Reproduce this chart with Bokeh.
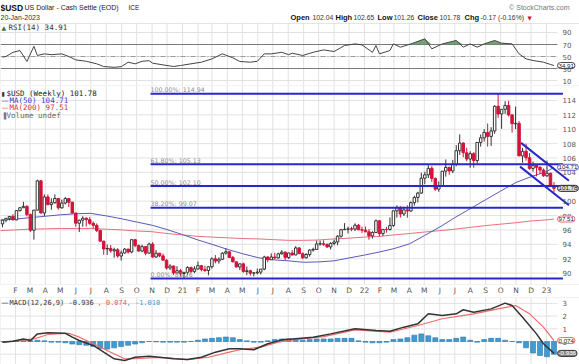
import pandas as pd
from bokeh.plotting import figure
from bokeh.models import Range1d, FixedTicker, Label, ColumnDataSource, BoxAnnotation
from bokeh.layouts import column
from bokeh.embed import file_html
from bokeh.resources import INLINE

# ---------------- data ----------------
week_ending = pd.date_range("2020-01-10", "2023-01-20", freq="W-FRI")

opens = [96.84, 97.36, 97.61, 97.87, 97.39, 98.69, 99.08, 99.26, 98.13, 95.95, 98.75, 102.82, 98.36, 100.58, 99.52, 99.78,
         100.37, 99.07, 99.74, 100.36, 99.85, 98.34, 96.93, 97.35, 97.63, 97.43, 96.92, 96.64, 95.91, 94.43, 93.35, 93.42,
         93.09, 93.24, 92.37, 92.79, 93.33, 92.93, 94.64, 93.84, 93.06, 93.68, 92.77, 94.04, 92.23, 92.77, 92.39, 91.79,
         90.70, 90.98, 90.02, 90.33, 89.94, 90.10, 90.77, 90.23, 90.58, 91.03, 90.48, 90.36, 90.88, 91.98, 91.67, 91.92,
         92.77, 92.96, 92.18, 91.56, 90.85, 91.28, 90.22, 90.32, 89.99, 90.03, 90.13, 90.55, 92.23, 91.85, 92.23, 92.12,
         92.68, 92.91, 92.17, 92.79, 92.52, 93.50, 92.69, 92.13, 92.58, 93.20, 93.29, 94.04, 94.08, 93.96, 93.64, 94.12,
         94.32, 95.12, 96.03, 96.09, 96.15, 96.11, 96.66, 96.02, 95.97, 95.73, 95.17, 95.64, 97.27, 95.48, 96.07, 96.05,
         96.62, 98.65, 99.13, 98.22, 98.79, 98.63, 99.79, 100.51, 101.12, 103.19, 103.66, 104.56, 103.16, 101.67, 102.14,
         104.17, 104.69, 104.20, 105.13, 107.01, 108.07, 106.72, 105.85, 106.60, 105.65, 108.16, 108.80, 109.54, 109.00,
         109.76, 113.19, 112.12, 112.77, 113.31, 111.99, 110.76, 110.81, 106.29, 106.93, 106.04, 104.55, 104.99, 104.70,
         104.32, 103.52, 103.88, 102.04]
highs = [97.46, 97.63, 97.92, 98.19, 98.70, 99.19, 99.91, 99.45, 98.28, 98.77, 102.99, 102.94, 100.93, 100.93, 100.40, 100.94,
         100.40, 100.22, 100.56, 100.38, 99.93, 98.40, 97.42, 97.89, 97.74, 97.80, 97.15, 96.90, 96.04, 94.51, 93.99, 93.90,
         93.53, 93.47, 93.14, 93.48, 93.38, 94.74, 94.75, 93.95, 93.95, 93.71, 94.22, 94.30, 93.21, 92.80, 92.70, 91.92,
         91.24, 91.05, 90.96, 90.58, 90.14, 90.94, 90.90, 90.95, 91.60, 91.05, 91.02, 90.97, 92.19, 92.50, 92.18, 92.90,
         93.44, 92.99, 92.37, 91.61, 91.31, 91.44, 90.91, 90.47, 90.12, 90.63, 90.55, 92.41, 92.35, 92.74, 92.83, 92.84,
         93.19, 93.00, 92.83, 93.20, 93.73, 93.60, 92.88, 92.77, 93.32, 93.52, 94.50, 94.50, 94.56, 94.13, 94.29, 94.64,
         95.27, 96.14, 96.94, 96.46, 96.44, 96.91, 96.79, 96.46, 96.47, 96.13, 95.82, 97.44, 97.33, 96.08, 96.43, 97.74,
         98.67, 99.42, 99.30, 99.22, 99.42, 99.96, 100.76, 101.30, 103.94, 104.07, 105.01, 104.87, 103.29, 102.74, 104.17,
         105.79, 104.78, 105.74, 107.79, 109.29, 108.19, 107.43, 106.93, 106.81, 108.19, 109.27, 110.02, 110.79, 110.28,
         113.33, 114.94, 112.77, 113.90, 113.95, 112.12, 113.15, 111.14, 107.40, 107.99, 106.68, 105.52, 105.03, 104.86,
         104.55, 105.63, 103.95, 102.65]
lows = [96.36, 97.07, 97.33, 97.36, 97.35, 98.54, 99.05, 97.88, 95.72, 94.65, 98.70, 98.26, 97.91, 99.42, 98.81, 99.65,
        98.81, 98.96, 99.55, 99.18, 98.34, 96.43, 95.71, 96.45, 96.48, 96.71, 96.24, 95.71, 94.41, 92.55, 92.52, 92.83,
        92.13, 92.14, 91.74, 92.70, 92.69, 92.74, 93.59, 92.99, 92.90, 92.48, 92.70, 92.13, 92.13, 92.21, 91.75, 90.47,
        90.43, 89.72, 89.98, 89.50, 89.26, 89.69, 89.96, 89.99, 90.45, 90.25, 90.15, 89.68, 90.63, 91.36, 91.30, 91.79,
        92.57, 92.08, 91.50, 90.79, 90.42, 90.05, 89.70, 89.65, 89.53, 89.81, 89.80, 90.40, 91.51, 91.82, 91.90, 92.00,
        92.56, 91.78, 91.95, 92.43, 92.47, 92.68, 91.94, 92.02, 92.29, 92.98, 93.23, 93.82, 93.78, 93.49, 93.28, 93.86,
        93.87, 94.92, 95.99, 95.52, 95.82, 95.85, 95.96, 95.57, 95.69, 94.63, 94.81, 95.64, 95.14, 95.17, 95.60, 95.92,
        96.43, 97.71, 97.72, 97.94, 97.69, 98.52, 99.39, 99.82, 101.03, 102.35, 103.21, 102.66, 101.43, 101.30, 102.03,
        103.41, 103.67, 103.90, 104.86, 106.43, 106.11, 105.54, 104.64, 104.64, 105.27, 107.58, 108.30, 107.58, 107.68,
        109.36, 111.57, 110.06, 112.13, 111.78, 109.54, 110.02, 106.27, 105.34, 105.63, 104.37, 104.11, 103.44, 103.79,
        103.38, 103.38, 101.99, 101.26]
closes = [97.36, 97.61, 97.87, 97.39, 98.69, 99.08, 99.26, 98.13, 95.95, 98.75, 102.82, 98.36, 100.58, 99.52, 99.78, 100.37,
          99.07, 99.74, 100.36, 99.85, 98.34, 96.93, 97.35, 97.63, 97.43, 96.92, 96.64, 95.91, 94.43, 93.35, 93.42, 93.09,
          93.24, 92.37, 92.79, 93.33, 92.93, 94.64, 93.84, 93.06, 93.68, 92.77, 94.04, 92.23, 92.77, 92.39, 91.79, 90.70,
          90.98, 90.02, 90.33, 89.94, 90.10, 90.77, 90.23, 90.58, 91.03, 90.48, 90.36, 90.88, 91.98, 91.67, 91.92, 92.77,
          92.96, 92.18, 91.56, 90.85, 91.28, 90.22, 90.32, 89.99, 90.03, 90.13, 90.55, 92.23, 91.85, 92.23, 92.12, 92.68,
          92.91, 92.17, 92.79, 92.52, 93.50, 92.69, 92.13, 92.58, 93.20, 93.29, 94.04, 94.08, 93.96, 93.64, 94.12, 94.32,
          95.12, 96.03, 96.09, 96.15, 96.11, 96.66, 96.02, 95.97, 95.73, 95.17, 95.64, 97.27, 95.48, 96.07, 96.05, 96.62,
          98.65, 99.13, 98.22, 98.79, 98.63, 99.79, 100.51, 101.12, 103.19, 103.66, 104.56, 103.16, 101.67, 102.14, 104.17,
          104.69, 104.20, 105.13, 107.01, 108.07, 106.72, 105.85, 106.60, 105.65, 108.16, 108.80, 109.54, 109.00, 109.76,
          113.19, 112.12, 112.77, 113.31, 111.99, 110.76, 110.81, 106.29, 106.93, 106.04, 104.55, 104.99, 104.70, 104.32,
          103.52, 103.88, 102.20, 101.78]

ma_dates = ["2020-01-01", "2020-02-01", "2020-03-01", "2020-04-01", "2020-05-01", "2020-06-01", "2020-07-01",
            "2020-08-01", "2020-09-01", "2020-10-01", "2020-11-01", "2020-12-01", "2021-01-01", "2021-02-01",
            "2021-03-01", "2021-04-01", "2021-05-01", "2021-06-01", "2021-07-01", "2021-08-01", "2021-09-01",
            "2021-10-01", "2021-11-01", "2021-12-01", "2022-01-01", "2022-02-01", "2022-03-01", "2022-04-01",
            "2022-05-01", "2022-06-01", "2022-07-01", "2022-08-01", "2022-09-01", "2022-10-01", "2022-11-01",
            "2022-12-01", "2023-01-01", "2023-01-16"]
ma50 = [97.35, 97.5, 97.7, 97.9, 98.1, 98.25, 98.3, 97.95, 97.55, 97.1, 96.65, 96.05, 95.35, 94.6, 94.0, 93.3,
        92.7, 92.15, 91.85, 91.7, 91.5, 91.55, 91.7, 92.1, 92.5, 92.95, 93.4, 94.05, 95.2, 96.4, 97.7, 98.95,
        100.2, 101.4, 102.6, 103.4, 104.1, 104.71]
ma200 = [95.9, 96.0, 96.1, 96.15, 96.2, 96.2, 96.2, 96.1, 96.0, 95.85, 95.75, 95.5, 95.3, 95.1, 95.0, 94.9,
         94.8, 94.75, 94.65, 94.55, 94.55, 94.6, 94.75, 94.85, 95.0, 95.1, 95.3, 95.5, 95.7, 95.9, 96.1, 96.35,
         96.6, 96.8, 97.0, 97.25, 97.4, 97.51]

rsi_week = [0, 1, 3, 5, 7, 9, 10, 12, 14, 17, 19, 21, 24, 27, 29, 32, 34, 36, 38, 40, 42, 43, 46, 49, 51, 54, 57,
            60, 63, 66, 68, 71, 73, 75, 77, 80, 82, 83, 86, 89, 92, 95, 98, 101, 103, 106, 107, 108, 111, 112, 114,
            117, 121, 123, 126, 130, 132, 134, 136, 138, 141, 143, 146, 148, 150, 152, 155, 157, 158]
rsi_vals = [49, 50, 57, 60, 41.7, 67, 51.7, 54.4, 53, 54.4, 50, 44.4, 42, 37.8, 33.3, 32, 33, 40.5, 37.8, 42, 43,
            38.9, 36, 33.3, 35, 37.8, 40.5, 46, 54.4, 47.8, 41.7, 40.5, 42, 54.4, 54.4, 57, 53, 55.5, 51.7, 57, 61,
            58.3, 68.3, 71, 69.4, 57, 68.3, 54.4, 60, 71, 65.5, 71, 79.4, 62.8, 71, 76.7, 65.5, 71, 65.5, 71, 76.7,
            72.2, 71, 54.4, 46, 43.3, 40.5, 36.7, 34.91]

macd_week = [0, 3, 6, 8, 10, 13, 18, 20, 22, 26, 29, 32, 35, 38, 42, 45, 49, 53, 57, 61, 65, 68, 72, 76, 80, 83,
             89, 94, 101, 107, 111, 115, 119, 122, 126, 130, 132, 135, 140, 144, 146, 149, 153, 155, 158]
macd_vals = [-0.05, 0.02, 0.2, 0.08, 0.6, 0.68, 0.65, 0.34, 0.08, -0.31, -0.84, -1.36, -1.5, -1.24, -1.16, -1.24,
             -1.36, -1.42, -1.24, -0.84, -0.57, -0.57, -0.65, -0.18, 0.13, 0.2, 0.34, 0.6, 1.0, 0.87, 0.81, 1.13,
             1.39, 2.18, 2.05, 2.18, 2.5, 2.31, 2.57, 3.02, 2.83, 1.91, 0.6, -0.18, -0.936]
signal_week = [0, 5, 9, 13, 19, 22, 26, 31, 35, 38, 43, 47, 53, 59, 65, 68, 74, 79, 83, 92, 101, 111, 119, 126,
               135, 142, 147, 151, 155, 158]
signal_vals = [-0.05, 0.08, 0.2, 0.55, 0.65, 0.34, -0.18, -0.84, -1.36, -1.36, -1.28, -1.28, -1.42, -1.24, -0.84,
               -0.65, -0.44, -0.05, 0.13, 0.39, 0.92, 0.73, 1.26, 1.79, 2.18, 2.57, 2.83, 2.18, 1.13, 0.074]
hist_week = list(range(0, 159, 2))
hist_vals = [0, 0, 0.02, 0.05, 0.05, 0.1, 0.05, -0.05, -0.05, -0.1, -0.2, -0.25, -0.3, -0.4, -0.55, -0.6, -0.5,
             -0.4, -0.3, -0.2, -0.1, 0, -0.03, -0.05, -0.05, -0.05, -0.05, 0, 0.1, 0.2, 0.25, 0.3, 0.35, 0.3, 0.15,
             0.05, -0.05, -0.05, 0.05, 0.15, 0.2, 0.2, 0.1, 0.1, 0.15, 0.2, 0.2, 0.2, 0.25, 0.25, 0.25, 0.05, -0.05,
             -0.1, -0.1, -0.05, 0.15, 0.2, 0.3, 0.5, 0.6, 0.45, 0.3, 0.15, 0.15, 0.25, 0.35, 0.1, -0.05, 0.15, 0.25,
             0.25, 0.1, 0, -0.1, -0.5, -0.9, -1.1, -1.2, -1.01]

fib_start = "2020-10-29"
fib_end = "2023-02-03"
fib_names = ["100.00%", "61.80%", "50.00%", "38.20%", "0.00%"]
fib_levels = [114.94, 105.13, 102.10, 99.07, 89.26]

channel_upper_dates = ["2022-11-11", "2023-02-15"]
channel_upper = [108.1, 102.84]
channel_lower_dates = ["2022-11-09", "2023-02-15"]
channel_lower = [104.8, 99.43]

month_ticks = ["2020-02-01", "2020-03-01", "2020-04-01", "2020-05-01", "2020-06-01", "2020-07-01", "2020-08-01",
               "2020-09-01", "2020-10-01", "2020-11-01", "2020-12-01", "2021-01-01", "2021-02-01", "2021-03-01",
               "2021-04-01", "2021-05-01", "2021-06-01", "2021-07-01", "2021-08-01", "2021-09-01", "2021-10-01",
               "2021-11-01", "2021-12-01", "2022-01-01", "2022-02-01", "2022-03-01", "2022-04-01", "2022-05-01",
               "2022-06-01", "2022-07-01", "2022-08-01", "2022-09-01", "2022-10-01", "2022-11-01", "2022-12-01",
               "2023-01-01"]
month_labels = ["F", "M", "A", "M", "J", "J", "A", "S", "O", "N", "D", "21", "F", "M", "A", "M", "J", "J", "A", "S",
                "O", "N", "D", "22", "F", "M", "A", "M", "J", "J", "A", "S", "O", "N", "D", "23"]

price_ticks = [90, 92, 94, 96, 98, 100, 102, 104, 106, 108, 110, 112, 114]
rsi_ticks = [10, 30, 50, 70, 90]
macd_ticks = [-1, 0, 1, 2, 3]

# ---------------- geometry ----------------
W = 579
H1, H2, BOT2, H3 = 85, 212, 10, 67
F1, F2, F3 = H1, H2 - BOT2, H3

base = pd.Timestamp("2020-01-01")
def dd(s):
    return (pd.Timestamp(s) - base).days

week_x = [(d - pd.Timedelta(days=4) - base).days for d in week_ending]
mt_x = [dd(s) for s in month_ticks]
x_start, x_end = 1.0, 1162.2
area_end = dd("2023-01-23")
xr = Range1d(x_start, x_end)

GRID = "#e2e2e2"
FONT = "DejaVu Sans"
MONO = "DejaVu Sans Mono"
SANS = "Liberation Sans"


def make_fig(h, yr, bottom=0, xaxis=False):
    f = figure(width=W, height=h, x_range=xr, y_range=yr, y_axis_location=None,
               x_axis_location="below" if xaxis else None, toolbar_location=None, output_backend="svg",
               min_border_left=0, min_border_right=0, min_border_top=0, min_border_bottom=bottom)
    f.grid.visible = False
    f.outline_line_color = None
    f.background_fill_color = "white"
    return f


def grids(f, ticks, y0, y1):
    f.segment(x0=mt_x, x1=mt_x, y0=[y0] * len(mt_x), y1=[y1] * len(mt_x), line_color=GRID, line_width=1)
    f.segment(x0=[x_start] * len(ticks), x1=[area_end] * len(ticks), y0=ticks, y1=ticks, line_color=GRID,
              line_width=1)


def ticklabels(f, ticks):
    for t in ticks:
        f.add_layout(Label(x=562, y=t, x_units="screen", y_units="data", text=f"{t}", text_font_size="7px",
                           text_font=FONT, text_color="#555555", text_baseline="middle", text_align="left"))


def lab(f, fh, ftop, xref, yref, text, size="7px", color="#333333", font=FONT, style="normal", align="left"):
    f.add_layout(Label(x=xref, y=fh - (yref - ftop), x_units="screen", y_units="screen", text=text,
                       text_font_size=size, text_color=color, text_font=font, text_font_style=style,
                       text_align=align, text_baseline="middle"))


def vbox(f, yval, text, line, fill="white", tcolor="#222222"):
    f.add_layout(Label(x=557, y=yval, x_units="screen", y_units="data", text=text, text_font_size="6.2px",
                       text_font=SANS, text_color=tcolor, text_baseline="middle", text_align="left",
                       background_fill_color=fill, border_line_color=line, border_line_width=1, padding=1,
                       border_radius=3))


# ---------------- RSI panel (with page header) ----------------
rsi_lo = 1.67
p1 = make_fig(H1, Range1d(rsi_lo, 143.33))
grids(p1, rsi_ticks, rsi_lo, 105)
p1.add_layout(BoxAnnotation(top=105, fill_alpha=0, line_color="#a8a8a8", line_width=1))
p1.segment(x0=[x_start] * 2, x1=[area_end] * 2, y0=[70, 30], y1=[70, 30], line_color="#7a7a7a", line_width=1)
p1.segment(x0=[x_start], x1=[area_end], y0=[50], y1=[50], line_color="#9a9a9a", line_width=1, line_dash="5 2 1 2")
rsi_x = [week_x[i] for i in rsi_week]
rsi_src = ColumnDataSource(dict(x=rsi_x, y=rsi_vals, y1=[70] * len(rsi_x), y2=[max(v, 70) for v in rsi_vals]))
p1.varea(x="x", y1="y1", y2="y2", source=rsi_src, fill_color="#5e8f5e", fill_alpha=0.85)
p1.line(x="x", y="y", source=rsi_src, line_color="#444444", line_width=1)
ticklabels(p1, rsi_ticks)
vbox(p1, rsi_vals[-1], f"{rsi_vals[-1]:.2f}", "#444444")

lab(p1, F1, 0, 0, 7, "$USD", size="8.5px", color="#111111", font=SANS, style="bold")
lab(p1, F1, 0, 24, 7, "US Dollar - Cash Settle (EOD)", size="7px", color="#222222", font=SANS)
lab(p1, F1, 0, 128, 7, "ICE", size="6.5px", color="#222222", font=SANS)
lab(p1, F1, 0, 0, 16.5, "20-Jan-2023", size="7px", color="#333333", font=SANS)
lab(p1, F1, 0, 569, 6.5, "\u00a9 StockCharts.com", size="7px", color="#777777", font=SANS, align="right")
hdr = [(290, "Open", True), (312, "102.04", False), (335, "High", True), (353, "102.65", False),
       (377, "Low", True), (393, "101.26", False), (417, "Close", True), (439, "101.78", False),
       (464, "Chg", True), (480, "-0.17 (-0.16%)", False)]
for hx_, t, b in hdr:
    lab(p1, F1, 0, hx_, 17, t, size="7.5px" if b else "6.8px", color="#111111" if b else "#333333",
        font=SANS, style="bold" if b else "normal")
lab(p1, F1, 0, 527, 17, "\u25bc", size="5.5px", color="#cc1133", font=FONT)
lab(p1, F1, 0, 1, 27, "\u25b2", size="6px", color="#3c6e3c", font=FONT)
lab(p1, F1, 0, 8, 27, "RSI(14) 34.91", size="7.5px", color="#333333", font=MONO)

# ---------------- price panel ----------------
p_top, p_bot = 116.08, 88.41
p2 = make_fig(H2, Range1d(p_bot, p_top), bottom=BOT2, xaxis=True)
ax = p2.xaxis[0]
ax.ticker = FixedTicker(ticks=mt_x)
ax.major_label_overrides = {t: l for t, l in zip(mt_x, month_labels)}
ax.axis_line_color = None
ax.major_tick_line_color = None
ax.minor_tick_line_color = None
ax.major_tick_out = 0
ax.major_tick_in = 0
ax.minor_tick_out = 0
ax.major_label_text_font_size = "7.5px"
ax.major_label_text_font = FONT
ax.major_label_text_color = "#555555"
ax.major_label_standoff = 1

grids(p2, price_ticks, p_bot, p_top)
p2.add_layout(BoxAnnotation(fill_alpha=0, line_color="#a8a8a8", line_width=1))

ma_x = [dd(s) for s in ma_dates]
p2.line(ma_x, ma200, line_color="#e8707e", line_width=1)
p2.line(ma_x, ma50, line_color="#5a5ab8", line_width=1)

up = [c >= o for o, c in zip(opens, closes)]
cs = ColumnDataSource(dict(
    x=week_x, top=[max(o, c) for o, c in zip(opens, closes)], bot=[min(o, c) for o, c in zip(opens, closes)],
    hi=highs, lo=lows,
    fill=["white" if u else "#d2143a" for u in up],
    line=["#333333" if u else "#d2143a" for u in up]))
p2.segment(x0="x", y0="lo", x1="x", y1="hi", source=cs, line_color="line", line_width=1)
p2.vbar(x="x", width=5, top="top", bottom="bot", source=cs, fill_color="fill", line_color="line", line_width=1)

FIB = "#2828c8"
for n, lv in zip(fib_names, fib_levels):
    p2.line([dd(fib_start), dd(fib_end)], [lv, lv], line_color=FIB, line_width=2)
    p2.add_layout(Label(x=dd(fib_start), y=lv, x_units="data", y_units="data", text=f"{n}: {lv:.2f}",
                        text_font_size="6.3px", text_font=FONT, text_color="#8c8c8c", y_offset=4,
                        text_baseline="middle"))
p2.line([dd(s) for s in channel_upper_dates], channel_upper, line_color=FIB, line_width=2)
p2.line([dd(s) for s in channel_lower_dates], channel_lower, line_color=FIB, line_width=2)

ticklabels(p2, price_ticks)
vbox(p2, ma200[-1], f"{ma200[-1]:.2f}", "#e8707e")
vbox(p2, ma50[-1], f"{ma50[-1]:.2f}", "#5a5ab8")
vbox(p2, closes[-1], f"{closes[-1]:.2f}", "#222222", fill="#e0e0e0", tcolor="#111111")

lab(p2, F2, 85, 1, 95.7, "\u25ae", size="6px", color="#333333")
lab(p2, F2, 85, 6, 95.7, "$USD (Weekly) 101.78", size="7.5px", color="#222222", font=MONO)
lab(p2, F2, 85, 1, 103, "\u2014", size="7px", color="#3a3ad0", font=FONT)
lab(p2, F2, 85, 9, 103, "MA(50) 104.71", size="7.5px", color="#3a3ad0", font=MONO)
lab(p2, F2, 85, 1, 110.3, "\u2014", size="7px", color="#e03040", font=FONT)
lab(p2, F2, 85, 9, 110.3, "MA(200) 97.51", size="7.5px", color="#e03040", font=MONO)
lab(p2, F2, 85, 1, 117.7, "\u2590", size="6px", color="#777777", font=FONT)
lab(p2, F2, 85, 6, 117.7, "Volume undef", size="7.5px", color="#666666", font=MONO)

# ---------------- MACD panel ----------------
m_top, m_bot = 3.465, -1.811
p3 = make_fig(H3, Range1d(m_bot, m_top))
grids(p3, macd_ticks, m_bot, m_top)
p3.add_layout(BoxAnnotation(fill_alpha=0, line_color="#a8a8a8", line_width=1))
hx = [week_x[i] for i in hist_week]
p3.vbar(x=hx, top=hist_vals, bottom=0, width=10, fill_color="#3f9bd2", line_color="#2a76a8", line_width=0.6)
p3.line([week_x[i] for i in signal_week], signal_vals, line_color="#f06a6a", line_width=1.2)
p3.line([week_x[i] for i in macd_week], macd_vals, line_color="#333333", line_width=1.5)
ticklabels(p3, macd_ticks)
vbox(p3, signal_vals[-1], f"{signal_vals[-1]:.3f}", "#f06a6a")
vbox(p3, macd_vals[-1], f"{macd_vals[-1]:.3f}", "#333333", fill="#8a8a8a", tcolor="white")
lab(p3, F3, 297, 1, 302.5, "\u2014", size="7px", color="#222222", font=FONT)
lab(p3, F3, 297, 9, 302.5, "MACD(12,26,9) -0.936", size="7px", color="#333333", font=MONO)
lab(p3, F3, 297, 97, 302.5, ", 0.074", size="7px", color="#ee5555", font=MONO)
lab(p3, F3, 297, 126, 302.5, ", -1.010", size="7px", color="#3f9bd2", font=MONO)

layout = column(p1, p2, p3, spacing=0)
open("out.html", "w").write(file_html(layout, INLINE))
